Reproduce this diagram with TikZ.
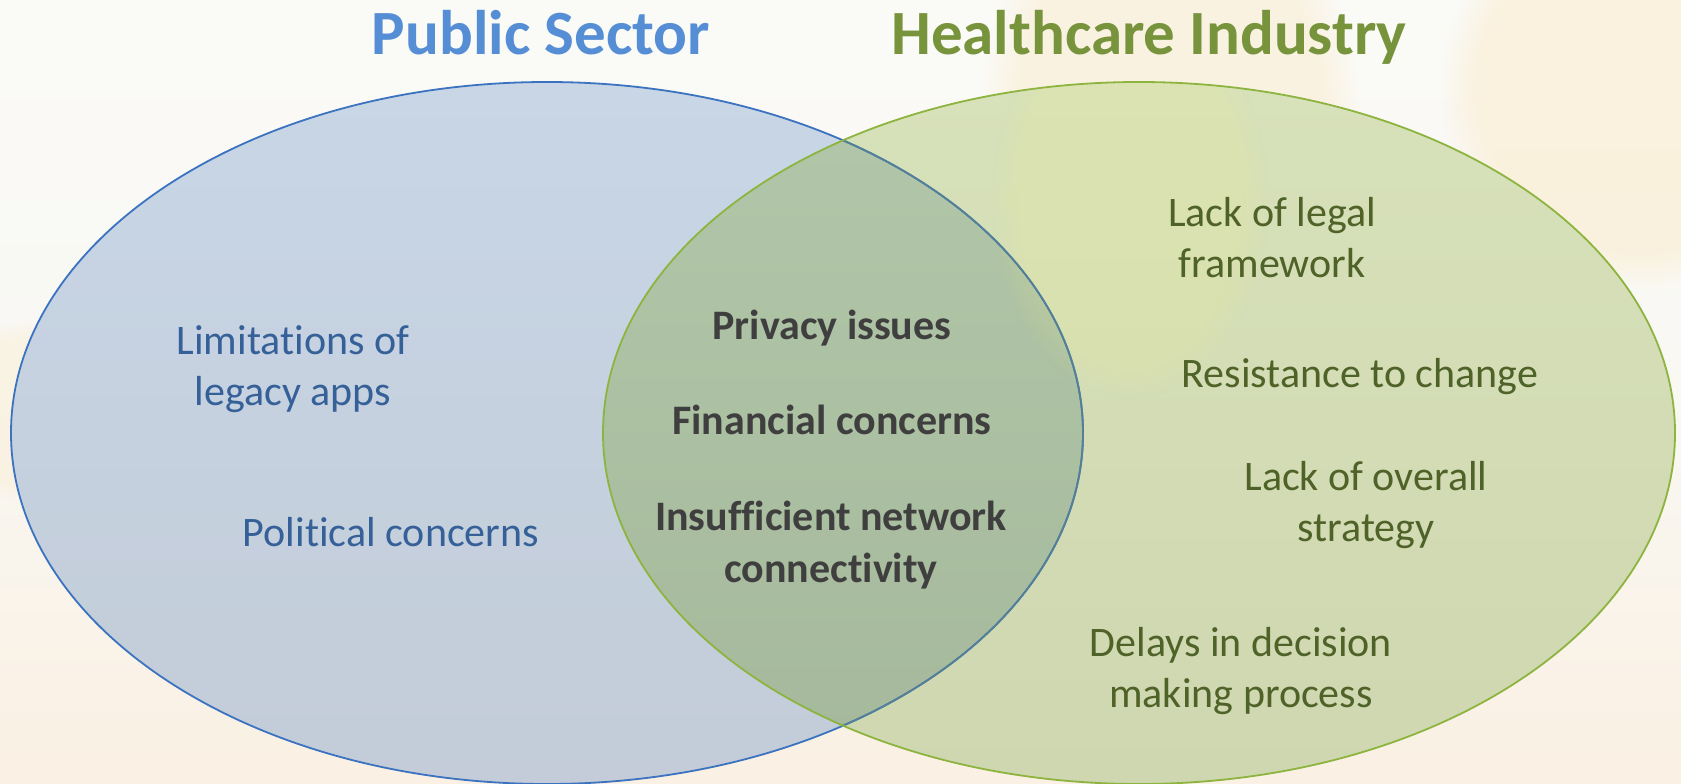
\documentclass[tikz,border=0pt]{standalone}
\usepackage{fontspec}
\setmainfont{Carlito}[Ligatures=NoCommon]
\usetikzlibrary{fadings}

% palette
\definecolor{bgtop}{RGB}{250,250,247}
\definecolor{bgmid}{RGB}{249,248,243}
\definecolor{bgbot}{RGB}{250,240,227}
\definecolor{pubfilltop}{RGB}{200,214,230}
\definecolor{pubfillbot}{RGB}{195,204,216}
\definecolor{hcfilltop}{RGB}{215,225,186}
\definecolor{hcfillbot}{RGB}{207,215,176}
\definecolor{bothtop}{RGB}{178,199,169}
\definecolor{bothbot}{RGB}{165,184,155}
\definecolor{publine}{RGB}{59,115,192}
\definecolor{publinedim}{RGB}{84,128,150}
\definecolor{hcline}{RGB}{140,180,62}
\definecolor{pubhead}{RGB}{85,142,213}
\definecolor{hchead}{RGB}{119,147,60}
\definecolor{pubtxt}{RGB}{53,96,152}
\definecolor{hctxt}{RGB}{79,98,40}
\definecolor{bothtxt}{RGB}{63,63,63}
\definecolor{warm}{RGB}{250,236,206}

\tikzset{
  heading/.style={font=\fontsize{63}{70}\selectfont\bfseries, inner sep=0pt, anchor=base},
  item/.style={font=\fontsize{42}{51}\selectfont, align=center, inner sep=0pt, anchor=base},
  pubitem/.style={item, text=pubtxt},
  hcitem/.style={item, text=hctxt},
  bothitem/.style={item, text=bothtxt, font=\fontsize{42}{52}\selectfont\bfseries},
  pubset/.style={x radius=536, y radius=351},
  glow/.style={fill=warm, path fading=circle with fuzzy edge 20 percent},
}

\begin{document}
\begin{tikzpicture}[x=1pt,y=-1pt]
  % page and background wash
  \useasboundingbox (0,0) rectangle (1681,784);
  \shade[top color=bgtop, bottom color=bgbot, middle color=bgmid] (0,0) rectangle (1681,784);
  \fill[glow, opacity=0.55] (1170,120) ellipse [x radius=190, y radius=260];
  \fill[glow, opacity=0.6] (1640,90) ellipse [x radius=200, y radius=200];
  \fill[glow, opacity=0.4] (40,410) ellipse [x radius=160, y radius=90];

  % set centres
  \coordinate (pubc) at (547,433);
  \coordinate (hcc) at (1139,433);

  % fills
  \shade[top color=pubfilltop, bottom color=pubfillbot] (pubc) ellipse [pubset];
  \shade[top color=hcfilltop, bottom color=hcfillbot] (hcc) ellipse [pubset];
  \begin{scope}
    \clip (pubc) ellipse [pubset];
    \shade[top color=bothtop, bottom color=bothbot] (hcc) ellipse [pubset];
  \end{scope}

  % pale yellow glow seen through the green set
  \begin{scope}
    \clip (hcc) ellipse [pubset];
    \fill[glow, fill=yellow!50!white, opacity=0.12] (1130,200) ellipse [x radius=140, y radius=200];
  \end{scope}

  % outlines
  \draw[publine, line width=1.8pt] (pubc) ellipse [pubset];
  \begin{scope}
    \clip (hcc) ellipse [pubset];
    \draw[publinedim, line width=1.8pt] (pubc) ellipse [pubset];
  \end{scope}
  \draw[hcline, line width=1.8pt] (hcc) ellipse [pubset];

  % headings
  \node[heading, text=pubhead] (pubhead) at (541,55) {Public Sector};
  \node[heading, text=hchead] (hchead) at (1149,55) {Healthcare Industry};

  % public sector only (base = last line)
  \node[pubitem] (legacy) at (293,405) {Limitations of\\legacy apps};
  \node[pubitem] (political) at (391,546) {Political concerns};

  % shared
  \node[bothitem] (privacy) at (832,339) {Privacy issues};
  \node[bothitem] (financial) at (832,434) {Financial concerns};
  \node[bothitem] (network) at (831,582) {Insufficient network\\connectivity};

  % healthcare only
  \node[hcitem] (legal) at (1272,277) {Lack of legal\\framework};
  \node[hcitem] (resist) at (1360,387) {Resistance to change};
  \node[hcitem] (strategy) at (1366,541) {Lack of overall\\strategy};
  \node[hcitem] (delays) at (1241,707) {Delays in decision\\making process};
\end{tikzpicture}
\end{document}
